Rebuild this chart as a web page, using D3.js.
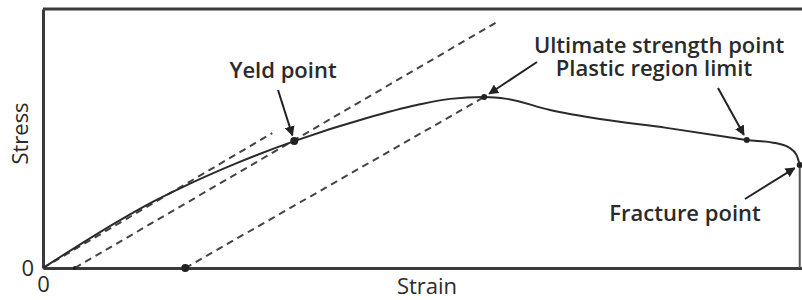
<!DOCTYPE html>
<html>
<head>
<meta charset="utf-8">
<script src="https://cdn.jsdelivr.net/npm/d3@7"></script>
<style>
  body { margin: 0; background: #fff; }
  svg text { font-family: "Open Sans", Lato, sans-serif; font-weight: 600; fill: #2a2a2a; }
</style>
</head>
<body>
<div id="chart"></div>
<script>
// stress-strain curve (arbitrary units, strain 0..100, stress 0..100)
const curveStrain = [0, 10.2, 14.5, 19.0, 25.6, 33.2, 42.8, 49.4, 53.8, 58.3, 61.3, 67.0, 73.6, 82.4, 90.4, 93.0, 96.5, 98.6, 99.6, 100];
const curveStress = [0, 18.5, 25.5, 32.0, 40.5, 49.0, 57.9, 62.9, 65.3, 66.0, 65.3, 61.0, 57.5, 54.1, 50.6, 49.4, 48.4, 46.5, 43.5, 39.8];

// key points
const pointNames = ["Yeld point", "Ultimate", "Plastic limit", "Fracture point", "Offset", "Unload"];
const pointStrain = [33.2, 58.3, 93.0, 100, 4.2, 18.8];
const pointStress = [49.0, 66.0, 49.4, 39.8, 0, 0];

// dashed guide lines [x1, y1, x2, y2]
const guideLines = [
    [0, 0, 30.3, 52.1],
    [4.2, 0, 60.0, 95.0],
    [18.8, 0, 58.3, 66.0]
];

const labels = ["Yeld point", "Ultimate strength point", "Plastic region limit", "Fracture point"];
const xTicks = [0];
const yTicks = [0];

const width = 802, height = 300;
const margin = {left: 43, top: 9, right: 0, bottom: 32};

const svg = d3.select("#chart").append("svg")
    .attr("width", width)
    .attr("height", height);

const x = d3.scaleLinear().domain([0, 100.3]).range([margin.left, width - margin.right]);
const y = d3.scaleLinear().domain([0, 100]).range([height - margin.bottom, margin.top]);

svg.append("defs").append("marker")
    .attr("id", "arrow")
    .attr("viewBox", "0 0 10 10")
    .attr("refX", 9).attr("refY", 5)
    .attr("markerWidth", 5).attr("markerHeight", 5)
    .attr("markerUnits", "strokeWidth")
    .attr("orient", "auto")
    .append("path")
    .attr("d", "M0,0L10,5L0,10z")
    .attr("fill", "#222");

// top frame line
svg.append("line")
    .attr("x1", x(0)).attr("x2", width)
    .attr("y1", y(100)).attr("y2", y(100))
    .attr("stroke", "#3a3a3a").attr("stroke-width", 3);

// axes
const xAxis = svg.append("g")
    .attr("transform", `translate(0,${y(0)})`)
    .call(d3.axisBottom(x).tickValues(xTicks).tickSize(0).tickPadding(8).tickSizeOuter(0));
const yAxis = svg.append("g")
    .attr("transform", `translate(${x(0)},0)`)
    .call(d3.axisLeft(y).tickValues(yTicks).tickSize(0).tickPadding(9).tickSizeOuter(0));

[xAxis, yAxis].forEach(g => {
    g.select(".domain").attr("stroke", "#3a3a3a").attr("stroke-width", 3);
    g.selectAll("text")
        .style("font-family", "'Open Sans', sans-serif")
        .style("font-size", "22px")
        .style("font-weight", 400)
        .attr("fill", "#2a2a2a");
});

// axis titles
svg.append("text")
    .attr("x", 427).attr("y", 294)
    .attr("text-anchor", "middle")
    .style("font-size", "22px")
    .style("font-weight", 400)
    .text("Strain");
svg.append("text")
    .attr("transform", `translate(28,${(y(0) + y(100)) / 2 - 5}) rotate(-90)`)
    .attr("text-anchor", "middle")
    .style("font-size", "22px")
    .style("font-weight", 400)
    .text("Stress");

// guide lines
svg.selectAll(".guide")
    .data(guideLines)
    .enter()
    .append("line")
    .attr("class", "guide")
    .attr("x1", d => x(d[0]))
    .attr("y1", d => y(d[1]))
    .attr("x2", d => x(d[2]))
    .attr("y2", d => y(d[3]))
    .attr("stroke", "#444")
    .attr("stroke-width", 2)
    .attr("stroke-dasharray", "7,5");

// main curve
const curveData = curveStrain.map((s, i) => [s, curveStress[i]]);
const line = d3.line()
    .x(d => x(d[0]))
    .y(d => y(d[1]))
    .curve(d3.curveMonotoneX);

svg.append("path")
    .datum(curveData)
    .attr("d", line)
    .attr("fill", "none")
    .attr("stroke", "#2a2a2a")
    .attr("stroke-width", 2);

// fracture drop
const last = curveData[curveData.length - 1];
svg.append("line")
    .attr("x1", x(last[0])).attr("x2", x(last[0]))
    .attr("y1", y(last[1])).attr("y2", y(0))
    .attr("stroke", "#555")
    .attr("stroke-width", 2);

// key point markers
const radii = [4, 3, 3, 3, 2, 4];
svg.selectAll(".pt")
    .data(pointNames)
    .enter()
    .append("circle")
    .attr("class", "pt")
    .attr("cx", (d, i) => x(pointStrain[i]))
    .attr("cy", (d, i) => y(pointStress[i]))
    .attr("r", (d, i) => radii[i])
    .attr("fill", "#222");

// annotations: text lines, arrow tail, target point index
const notes = [
    {lines: [labels[0]], tx: 283, ty: 78, ax: 278, ay: 90, p: 0},
    {lines: [labels[1], labels[2]], tx: 659, ty: 53, ax: 537, ay: 62, p: 1},
    {lines: [], tx: 654, ty: 76, ax: 718, ay: 88, p: 2},
    {lines: [labels[3]], tx: 685, ty: 221, ax: 745, ay: 199, p: 3}
];

const noteText = svg.selectAll(".note")
    .data(notes.filter(d => d.lines.length))
    .enter()
    .append("text")
    .attr("class", "note")
    .attr("y", d => d.ty)
    .attr("text-anchor", "middle")
    .style("font-size", "22px");

noteText.selectAll("tspan")
    .data(d => d.lines.map((t, i) => ({t, i, x: d.tx})))
    .enter()
    .append("tspan")
    .attr("x", d => d.i === 0 ? d.x : d.x - 5)
    .attr("dy", d => d.i === 0 ? 0 : 23)
    .text(d => d.t);

svg.selectAll(".arrow")
    .data(notes)
    .enter()
    .append("line")
    .attr("class", "arrow")
    .attr("x1", d => d.ax)
    .attr("y1", d => d.ay)
    .attr("x2", d => {
        const px = x(pointStrain[d.p]), py = y(pointStress[d.p]);
        const len = Math.hypot(px - d.ax, py - d.ay);
        return px - (px - d.ax) * 6 / len;
    })
    .attr("y2", d => {
        const px = x(pointStrain[d.p]), py = y(pointStress[d.p]);
        const len = Math.hypot(px - d.ax, py - d.ay);
        return py - (py - d.ay) * 6 / len;
    })
    .attr("stroke", "#222")
    .attr("stroke-width", 2)
    .attr("marker-end", "url(#arrow)");
</script>
</body>
</html>
